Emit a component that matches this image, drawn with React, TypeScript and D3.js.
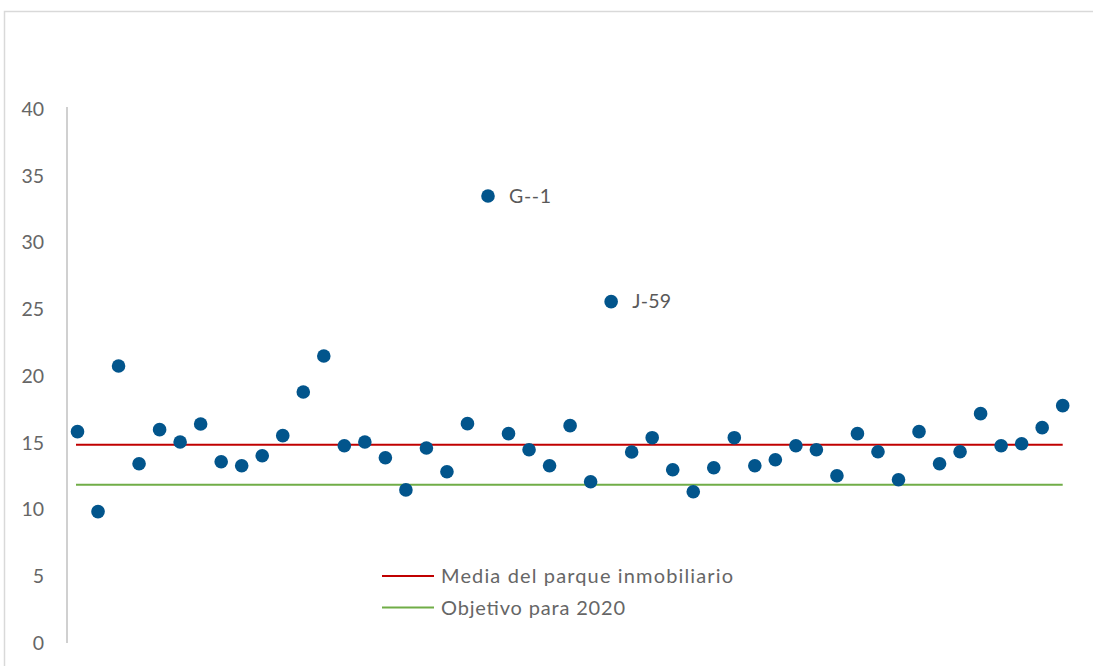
import React from "react";
import * as d3 from "d3";

// Indicador por edificio (orden de la serie)
const values: number[] = [
  15.83, 9.84, 20.75, 13.43, 15.98, 15.06, 16.4, 13.58, 13.28, 14.03,
  15.53, 18.8, 21.5, 14.78, 15.06, 13.88, 11.47, 14.61, 12.83, 16.43,
  33.48, 15.68, 14.48, 13.28, 16.28, 12.08, 25.57, 14.31, 15.38, 12.98,
  11.33, 13.13, 15.38, 13.28, 13.73, 14.78, 14.48, 12.53, 15.68, 14.33,
  12.23, 15.83, 13.43, 14.33, 17.18, 14.78, 14.93, 16.13, 17.78,
];

// Etiquetas de los puntos destacados: índice en la serie y texto
const pointLabels: { index: number; text: string; width: number }[] = [
  { index: 20, text: "G--1", width: 42 },
  { index: 26, text: "J-59", width: 39 },
];

// Líneas de referencia
const refNames: string[] = ["Media del parque inmobiliario", "Objetivo para 2020"];
const refValues: number[] = [14.85, 11.85];
const refColors: string[] = ["#C00000", "#70AD47"];
const legendWidths: number[] = [292, 184];

const yTicks: number[] = [0, 5, 10, 15, 20, 25, 30, 35, 40];

const W = 1093;
const H = 666;
const FONT = "Lato, 'Open Sans', sans-serif";
const TEXT = "#666666";
const POINT = "#02558C";

export default function App() {
  const y = d3.scaleLinear().domain([0, 40]).range([643, 109]);
  const x = d3.scaleLinear().domain([0, values.length - 1]).range([77.5, 1062.7]);

  return (
    <svg
      width={W}
      height={H}
      style={{ position: "absolute", left: 0, top: 0, background: "#fff" }}
      fontFamily={FONT}
    >
      {/* marco del área del gráfico */}
      <path d={`M4.5,${H} L4.5,11.5 L${W},11.5`} fill="none" stroke="#D9D9D9" strokeWidth={1.5} />

      {/* eje vertical */}
      <line x1={67} x2={67} y1={y(40) - 2} y2={y(0)} stroke="#D0D0D0" strokeWidth={2} />
      {yTicks.map((t) => (
        <text
          key={t}
          x={44}
          y={y(t)}
          dy="0.35em"
          textAnchor="end"
          fontSize={19.5}
          fill={TEXT}
        >
          {t}
        </text>
      ))}

      {/* líneas de referencia */}
      {refValues.map((v, i) => (
        <line
          key={refNames[i]}
          x1={x(0) - 1.5}
          x2={x(values.length - 1)}
          y1={y(v)}
          y2={y(v)}
          stroke={refColors[i]}
          strokeWidth={2}
        />
      ))}

      {/* puntos */}
      {values.map((v, i) => (
        <circle key={i} cx={x(i)} cy={y(v)} r={6.8} fill={POINT} />
      ))}

      {pointLabels.map((l) => (
        <text
          key={l.text}
          x={x(l.index) + 21}
          y={y(values[l.index])}
          dy="0.35em"
          fontSize={19.5}
          fill="#595959"
          textLength={l.width}
          lengthAdjust="spacing"
        >
          {l.text}
        </text>
      ))}

      {/* leyenda */}
      {refNames.map((name, i) => (
        <g key={name} transform={`translate(382,${576 + i * 31.5})`}>
          <line x1={0} x2={52} y1={0} y2={0} stroke={refColors[i]} strokeWidth={2} />
          <text
            x={59}
            y={0}
            dy="0.35em"
            fontSize={20}
            fill={TEXT}
            textLength={legendWidths[i]}
            lengthAdjust="spacing"
          >
            {name}
          </text>
        </g>
      ))}
    </svg>
  );
}
